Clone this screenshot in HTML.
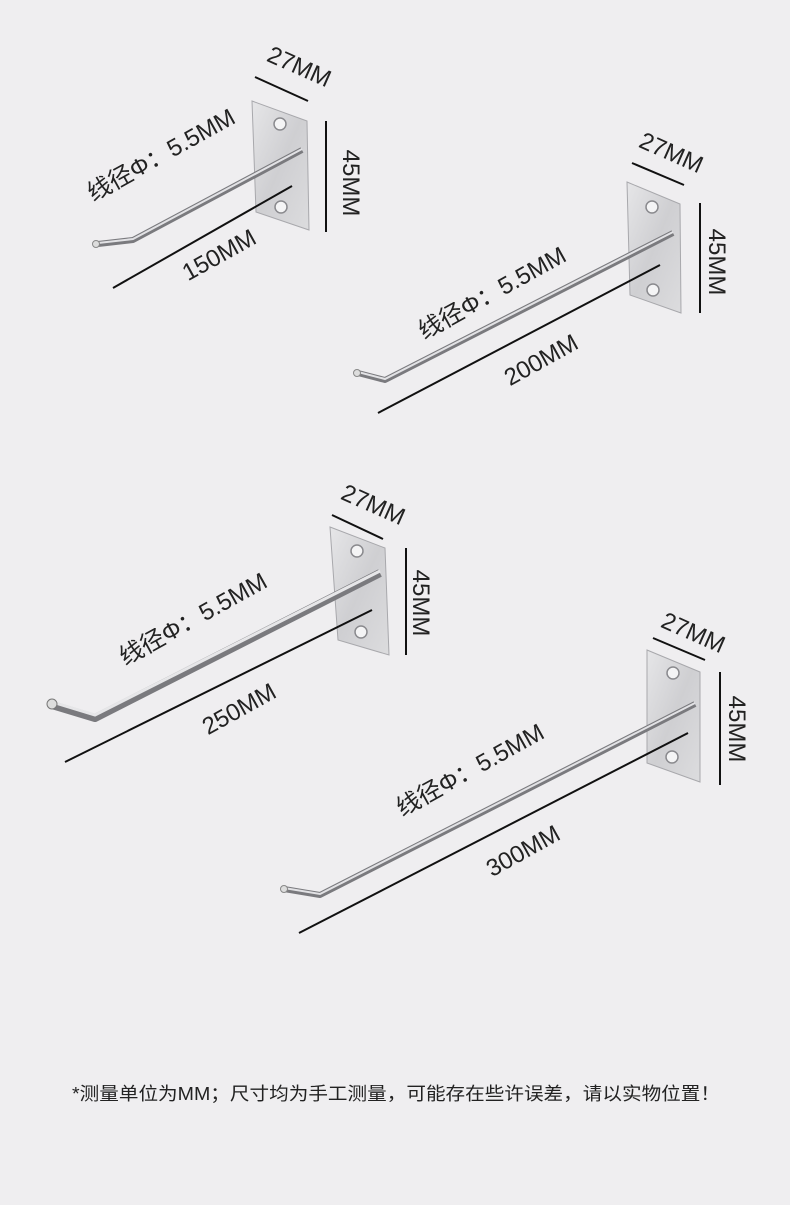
<!DOCTYPE html>
<html><head><meta charset="utf-8"><style>
html,body{margin:0;padding:0;background:#efeef0;}
svg{display:block}
text{font-family:"Liberation Sans","Noto Sans CJK SC",sans-serif;fill:#222;}
</style></head><body>
<svg width="790" height="1205" viewBox="0 0 790 1205" xmlns="http://www.w3.org/2000/svg">
<defs>
<linearGradient id="pl" x1="0" y1="0" x2="1" y2="1">
<stop offset="0" stop-color="#e6e6e8"/><stop offset="0.5" stop-color="#cfcfd2"/><stop offset="1" stop-color="#dcdcde"/>
</linearGradient>
</defs>
<rect width="790" height="1205" fill="#efeef0"/>

<!-- Hook 1 -->
<polygon points="252,101 307,121 309,230 256,212" fill="url(#pl)" stroke="#a8a8ac" stroke-width="1"/>
<ellipse cx="280" cy="124" rx="6" ry="6" fill="#f4f4f5" stroke="#8a8a8e" stroke-width="1.5"/>
<ellipse cx="281" cy="207" rx="6" ry="6" fill="#f4f4f5" stroke="#8a8a8e" stroke-width="1.5"/>
<path d="M302,150 L133,240 L98,244" fill="none" stroke="#7a7a7e" stroke-width="6" stroke-linejoin="round"/>
<path d="M302,149 L133,239 L98,243" fill="none" stroke="#e2e2e5" stroke-width="2"/>
<circle cx="96" cy="244" r="3.5" fill="#ddd" stroke="#888"/>
<line x1="255" y1="77" x2="308" y2="101" stroke="#111" stroke-width="2"/>
<line x1="326" y1="121" x2="326" y2="232" stroke="#111" stroke-width="2"/>
<line x1="113" y1="288" x2="292" y2="186" stroke="#111" stroke-width="2"/>
<text x="296" y="74" font-size="24" text-anchor="middle" transform="rotate(24 296 74)">27MM</text>
<text x="343" y="183" font-size="24" text-anchor="middle" transform="rotate(90 343 183)">45MM</text>
<text x="223" y="262" font-size="24" text-anchor="middle" transform="rotate(-29 223 262)">150MM</text>
<text x="165" y="162" font-size="24" text-anchor="middle" transform="rotate(-29 165 162)">线径Φ：5.5MM</text>

<!-- Hook 2 -->
<polygon points="627,182 680,204 681,313 630,295" fill="url(#pl)" stroke="#a8a8ac" stroke-width="1"/>
<ellipse cx="652" cy="207" rx="6" ry="6" fill="#f4f4f5" stroke="#8a8a8e" stroke-width="1.5"/>
<ellipse cx="653" cy="290" rx="6" ry="6" fill="#f4f4f5" stroke="#8a8a8e" stroke-width="1.5"/>
<path d="M673,233 L385,380 L358,373" fill="none" stroke="#7a7a7e" stroke-width="6" stroke-linejoin="round"/>
<path d="M673,232 L385,379 L358,372" fill="none" stroke="#e2e2e5" stroke-width="2"/>
<circle cx="357" cy="373" r="3.5" fill="#ddd" stroke="#888"/>
<line x1="632" y1="163" x2="684" y2="185" stroke="#111" stroke-width="2"/>
<line x1="700" y1="203" x2="700" y2="313" stroke="#111" stroke-width="2"/>
<line x1="378" y1="413" x2="660" y2="265" stroke="#111" stroke-width="2"/>
<text x="668" y="160" font-size="24" text-anchor="middle" transform="rotate(24 668 160)">27MM</text>
<text x="709" y="262" font-size="24" text-anchor="middle" transform="rotate(90 709 262)">45MM</text>
<text x="545" y="367" font-size="24" text-anchor="middle" transform="rotate(-29 545 367)">200MM</text>
<text x="496" y="300" font-size="24" text-anchor="middle" transform="rotate(-29 496 300)">线径Φ：5.5MM</text>

<!-- Hook 3 -->
<polygon points="330,527 385,548 389,655 338,640" fill="url(#pl)" stroke="#a8a8ac" stroke-width="1"/>
<ellipse cx="357" cy="551" rx="6" ry="6" fill="#f4f4f5" stroke="#8a8a8e" stroke-width="1.5"/>
<ellipse cx="361" cy="632" rx="6" ry="6" fill="#f4f4f5" stroke="#8a8a8e" stroke-width="1.5"/>
<path d="M380,573 L95,718 L52,705" fill="none" stroke="#7a7a7e" stroke-width="8" stroke-linejoin="round"/>
<path d="M380,571 L95,715 L52,702" fill="none" stroke="#e6e6e8" stroke-width="3"/>
<circle cx="52" cy="704" r="5" fill="#ddd" stroke="#777"/>
<line x1="332" y1="515" x2="383" y2="539" stroke="#111" stroke-width="2"/>
<line x1="406" y1="548" x2="406" y2="655" stroke="#111" stroke-width="2"/>
<line x1="65" y1="762" x2="372" y2="610" stroke="#111" stroke-width="2"/>
<text x="370" y="512" font-size="24" text-anchor="middle" transform="rotate(24 370 512)">27MM</text>
<text x="413" y="603" font-size="24" text-anchor="middle" transform="rotate(90 413 603)">45MM</text>
<text x="243" y="716" font-size="24" text-anchor="middle" transform="rotate(-29 243 716)">250MM</text>
<text x="197" y="626" font-size="24" text-anchor="middle" transform="rotate(-29 197 626)">线径Φ：5.5MM</text>

<!-- Hook 4 -->
<polygon points="647,650 700,672 700,782 647,763" fill="url(#pl)" stroke="#a8a8ac" stroke-width="1"/>
<ellipse cx="673" cy="673" rx="6" ry="6" fill="#f4f4f5" stroke="#8a8a8e" stroke-width="1.5"/>
<ellipse cx="672" cy="757" rx="6" ry="6" fill="#f4f4f5" stroke="#8a8a8e" stroke-width="1.5"/>
<path d="M695,704 L320,895 L284,889" fill="none" stroke="#7a7a7e" stroke-width="6" stroke-linejoin="round"/>
<path d="M695,703 L320,894 L284,888" fill="none" stroke="#e2e2e5" stroke-width="2"/>
<circle cx="284" cy="889" r="3.5" fill="#ddd" stroke="#888"/>
<line x1="653" y1="638" x2="705" y2="660" stroke="#111" stroke-width="2"/>
<line x1="720" y1="672" x2="720" y2="785" stroke="#111" stroke-width="2"/>
<line x1="299" y1="933" x2="688" y2="733" stroke="#111" stroke-width="2"/>
<text x="690" y="640" font-size="24" text-anchor="middle" transform="rotate(24 690 640)">27MM</text>
<text x="729" y="729" font-size="24" text-anchor="middle" transform="rotate(90 729 729)">45MM</text>
<text x="527" y="858" font-size="24" text-anchor="middle" transform="rotate(-29 527 858)">300MM</text>
<text x="474" y="777" font-size="24" text-anchor="middle" transform="rotate(-29 474 777)">线径Φ：5.5MM</text>

<text x="396" y="1100" font-size="18" text-anchor="middle" textLength="648" lengthAdjust="spacingAndGlyphs">*测量单位为MM；尺寸均为手工测量，可能存在些许误差，请以实物位置！</text>
</svg>
</body></html>
